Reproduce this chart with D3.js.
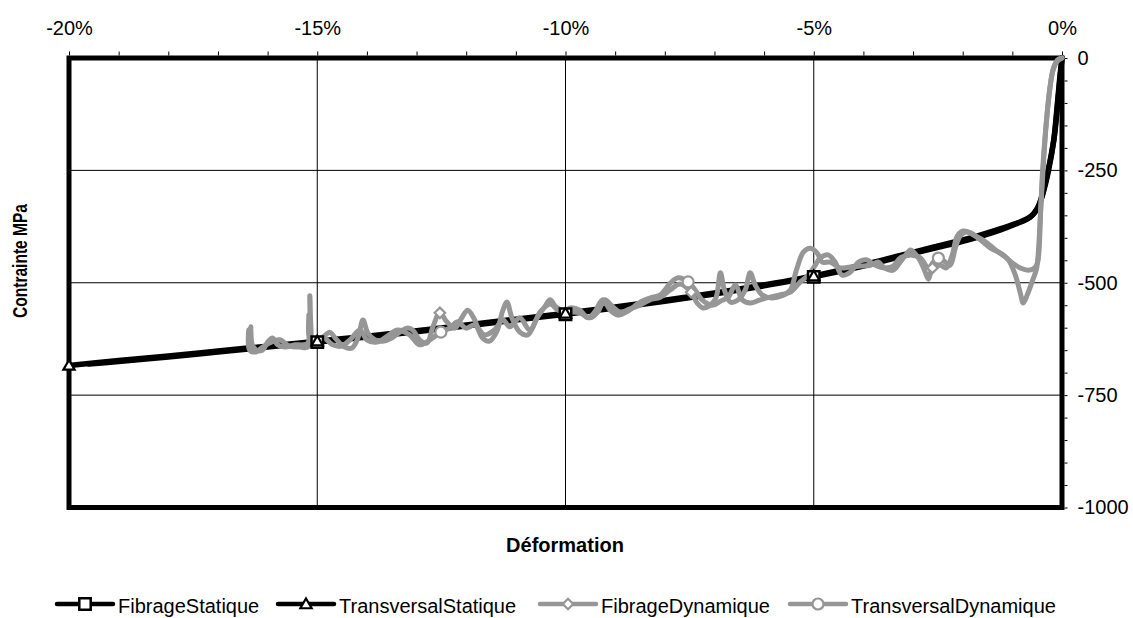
<!DOCTYPE html>
<html><head><meta charset="utf-8">
<script src="https://cdn.jsdelivr.net/npm/d3@7"></script>
<style>
body{margin:0;background:#fff}
svg{display:block}
text{font-family:"Liberation Sans",Arial,Helvetica,sans-serif;fill:#000}
</style>
</head><body>
<svg id="chart" width="1133" height="618"></svg>
<script>
// ---------- data ----------
const xTickValues = [-20,-15,-10,-5,0];
const yTickValues = [0,-250,-500,-750,-1000];
const seriesNames = ["FibrageStatique","TransversalStatique","FibrageDynamique","TransversalDynamique"];

// [strain %, stress MPa]
const fibrageStatique = [[0,0],[-0.05,-50],[-0.1,-110],[-0.17,-185],[-0.3,-260],[-0.4,-305],[-0.5,-335],[-0.65,-355],[-0.9,-368],[-1.25,-383],[-1.9,-405],[-2.6,-424],[-3.25,-442],[-4,-463],[-5,-487],[-6,-507],[-7,-525],[-8,-541],[-9,-556],[-10,-570],[-11,-583],[-12,-596],[-13,-609],[-14,-621],[-15,-632],[-16,-643],[-17,-654],[-18,-665],[-19,-675],[-19.6,-681]];
const transversalStatique = [[0,0],[-0.04,-45],[-0.09,-105],[-0.16,-180],[-0.28,-255],[-0.38,-300],[-0.48,-332],[-0.62,-352],[-0.88,-366],[-1.25,-380],[-1.9,-402],[-2.6,-421],[-3.25,-439],[-4,-460],[-5,-485],[-6,-505],[-7,-523],[-8,-539],[-9,-554],[-10,-568],[-11,-581],[-12,-594],[-13,-607],[-14,-619],[-15,-630],[-16,-641],[-17,-652],[-18,-663],[-19,-673],[-20,-684]];
const fibrageDynamique = [[-16.36,-643],[-16.34,-598],[-16.31,-638],[-16.22,-650],[-16.10,-650],[-16.00,-632],[-15.90,-623],[-15.80,-638],[-15.65,-643],[-15.45,-638],[-15.29,-638],[-15.19,-634],[-15.15,-529],[-15.13,-594],[-15.09,-638],[-14.99,-627],[-14.85,-618],[-14.75,-610],[-14.61,-627],[-14.45,-643],[-14.30,-645],[-14.18,-623],[-14.08,-583],[-13.98,-612],[-13.84,-627],[-13.68,-630],[-13.50,-623],[-13.34,-610],[-13.20,-601],[-13.08,-605],[-12.94,-627],[-12.79,-634],[-12.67,-598],[-12.53,-567],[-12.39,-587],[-12.23,-601],[-12.09,-578],[-11.97,-561],[-11.85,-578],[-11.67,-623],[-11.53,-630],[-11.39,-610],[-11.26,-561],[-11.18,-543],[-11.08,-578],[-10.92,-610],[-10.76,-616],[-10.57,-578],[-10.41,-552],[-10.31,-538],[-10.19,-554],[-10.01,-565],[-9.91,-565],[-9.71,-567],[-9.51,-578],[-9.35,-565],[-9.21,-538],[-9.06,-552],[-8.90,-565],[-8.70,-558],[-8.50,-550],[-8.30,-538],[-8.09,-532],[-7.89,-516],[-7.69,-503],[-7.47,-521],[-7.35,-545],[-7.23,-556],[-7.09,-550],[-6.97,-534],[-6.88,-478],[-6.80,-516],[-6.68,-543],[-6.52,-538],[-6.38,-516],[-6.28,-478],[-6.18,-505],[-6.04,-527],[-5.84,-534],[-5.64,-529],[-5.47,-516],[-5.35,-472],[-5.21,-432],[-5.07,-423],[-4.93,-434],[-4.83,-454],[-4.67,-454],[-4.47,-467],[-4.26,-465],[-4.06,-463],[-3.86,-461],[-3.70,-454],[-3.58,-467],[-3.40,-472],[-3.26,-454],[-3.16,-440],[-3.05,-427],[-2.89,-445],[-2.77,-472],[-2.69,-492],[-2.61,-467],[-2.45,-461],[-2.33,-467],[-2.21,-438],[-2.11,-396],[-1.99,-385],[-1.84,-389],[-1.64,-405],[-1.44,-423],[-1.24,-434],[-1.08,-449],[-0.94,-483],[-0.84,-523],[-0.78,-545],[-0.70,-527],[-0.59,-494],[-0.51,-467],[-0.45,-383],[-0.39,-249],[-0.33,-160],[-0.27,-93],[-0.19,-31],[-0.11,-9],[0,0]];
const transversalDynamique = [[-16.38,-605],[-16.36,-650],[-16.24,-654],[-16.12,-645],[-15.96,-634],[-15.76,-627],[-15.56,-641],[-15.35,-643],[-15.19,-643],[-15.17,-572],[-15.15,-627],[-15.03,-634],[-14.89,-621],[-14.69,-638],[-14.51,-641],[-14.34,-627],[-14.14,-605],[-14.00,-627],[-13.80,-632],[-13.58,-618],[-13.38,-605],[-13.14,-616],[-12.94,-638],[-12.73,-627],[-12.51,-610],[-12.33,-601],[-12.17,-587],[-12.01,-601],[-11.83,-594],[-11.63,-616],[-11.43,-605],[-11.26,-583],[-11.12,-598],[-10.92,-578],[-10.72,-605],[-10.51,-565],[-10.31,-547],[-10.15,-561],[-9.99,-563],[-9.91,-556],[-9.71,-561],[-9.55,-578],[-9.41,-565],[-9.25,-538],[-9.10,-561],[-8.94,-572],[-8.74,-563],[-8.50,-543],[-8.30,-534],[-8.09,-527],[-7.89,-501],[-7.73,-489],[-7.53,-498],[-7.39,-516],[-7.25,-538],[-7.04,-550],[-6.88,-541],[-6.72,-532],[-6.58,-505],[-6.44,-538],[-6.28,-545],[-6.08,-538],[-5.88,-532],[-5.68,-527],[-5.47,-521],[-5.27,-498],[-5.11,-483],[-4.97,-461],[-4.87,-445],[-4.71,-438],[-4.57,-454],[-4.43,-483],[-4.26,-476],[-4.10,-454],[-3.94,-449],[-3.76,-461],[-3.56,-467],[-3.40,-463],[-3.26,-445],[-3.05,-438],[-2.85,-445],[-2.69,-467],[-2.59,-454],[-2.49,-445],[-2.35,-454],[-2.25,-461],[-2.15,-423],[-2.05,-396],[-1.93,-387],[-1.74,-396],[-1.54,-409],[-1.34,-427],[-1.14,-443],[-1.00,-456],[-0.84,-467],[-0.68,-472],[-0.55,-467],[-0.49,-454],[-0.43,-338],[-0.37,-227],[-0.31,-138],[-0.25,-71],[-0.17,-22],[-0.09,-4],[0,0]];

// strains at which markers are shown
const fibrageStatiqueMarkers = [-5,-10,-15];
const transversalStatiqueMarkers = [-5,-10,-15,-20];
const fibrageDynamiqueMarkers = [-12.53,-7.47,-2.61];
const transversalDynamiqueMarkers = [-12.51,-7.53,-2.49];

// ---------- chart ----------
const svg = d3.select('#chart');
const x = d3.scaleLinear().domain([-20,0]).range([69,1062]);
const y = d3.scaleLinear().domain([-1000,0]).range([507.5,58]);
const FONT = 20;
const GREY = '#969696';
const hy = v => String(Math.round(v)); // plain hyphen-minus

const series = [
  {name:seriesNames[0], data:fibrageStatique, markers:fibrageStatiqueMarkers, color:'#000', width:5.5, symbol:'square'},
  {name:seriesNames[1], data:transversalStatique, markers:transversalStatiqueMarkers, color:'#000', width:5.5, symbol:'triangle'},
  {name:seriesNames[2], data:fibrageDynamique, markers:fibrageDynamiqueMarkers, color:GREY, width:5, symbol:'diamond'},
  {name:seriesNames[3], data:transversalDynamique, markers:transversalDynamiqueMarkers, color:GREY, width:5, symbol:'circle'}
];

// gridlines
svg.append('g').selectAll('line').data(yTickValues.filter(d=>d!==0 && d!==-1000)).join('line')
  .attr('x1',x(-20)).attr('x2',x(0)).attr('y1',d=>y(d)).attr('y2',d=>y(d))
  .attr('stroke','#000').attr('stroke-width',1);
svg.append('g').selectAll('line').data(xTickValues.filter(d=>d!==0 && d!==-20)).join('line')
  .attr('y1',y(0)).attr('y2',y(-1000)).attr('x1',d=>x(d)).attr('x2',d=>x(d))
  .attr('stroke','#000').attr('stroke-width',1);

// frame
svg.append('rect').attr('x',x(-20)).attr('y',y(0)).attr('width',x(0)-x(-20)).attr('height',y(-1000)-y(0))
  .attr('fill','none').attr('stroke','#000').attr('stroke-width',5);

// top axis (minor ticks every 1%)
const topAxis = d3.axisTop(x).tickValues(d3.range(-20,0.5,1))
  .tickFormat(d => (Math.round(d)%5===0) ? hy(d)+'%' : '')
  .tickSizeInner(4).tickSizeOuter(0).tickPadding(17);
const gt = svg.append('g').attr('transform',`translate(0,${y(0)-2.5})`).call(topAxis);
gt.select('.domain').remove();
gt.selectAll('line').attr('stroke','#000');
gt.selectAll('text').attr('font-size',FONT).attr('font-family','"Liberation Sans",Arial,sans-serif');

// right axis (ticks every 50)
const rightAxis = d3.axisRight(y).tickValues(d3.range(-1000,1,50))
  .tickFormat(d => (Math.round(d)%250===0) ? hy(d) : '')
  .tickSizeInner(3).tickSizeOuter(0).tickPadding(10);
const gr = svg.append('g').attr('transform',`translate(${x(0)+2.5},0)`).call(rightAxis);
gr.select('.domain').remove();
gr.selectAll('line').attr('stroke','#000');
gr.selectAll('text').attr('font-size',FONT).attr('font-family','"Liberation Sans",Arial,sans-serif');

// axis titles
svg.append('text').attr('x',565).attr('y',552).attr('text-anchor','middle')
  .attr('font-size',FONT).attr('font-weight','bold').text('Déformation');
svg.append('text').attr('transform','translate(26.5,261) rotate(-90) scale(0.74,1)')
  .attr('text-anchor','middle').attr('font-size',21).attr('font-weight','bold').text('Contrainte MPa');

// lines
const line = d3.line().x(d=>x(d[0])).y(d=>y(d[1])).curve(d3.curveCatmullRom.alpha(0.5));
svg.append('defs').append('clipPath').attr('id','clip').append('rect')
  .attr('x',x(-20)-6).attr('y',y(0)-6).attr('width',x(0)-x(-20)+12).attr('height',y(-1000)-y(0)+12);
const gl = svg.append('g').attr('clip-path','url(#clip)');
series.forEach(s=>{
  gl.append('path').datum(s.data).attr('d',line).attr('fill','none')
    .attr('stroke',s.color).attr('stroke-width',s.width)
    .attr('stroke-linejoin','round').attr('stroke-linecap','round');
});

// markers
function drawMarker(g, type, cx, cy, color){
  let path;
  if(type==='square') path = d3.symbol(d3.symbolSquare, 130)();
  else if(type==='triangle') path = d3.symbol(d3.symbolTriangle, 55)();
  else if(type==='diamond') path = d3.symbol(d3.symbolSquare, 55)();
  else path = d3.symbol(d3.symbolCircle, 95)();
  const rot = type==='diamond' ? ' rotate(45)' : '';
  const dy = type==='triangle' ? 1 : 0;
  g.append('path').attr('d',path).attr('transform',`translate(${cx},${cy+dy})${rot}`)
    .attr('fill','#fff').attr('stroke',color).attr('stroke-width', type==='square'?2.5:2.2);
}
const gm = svg.append('g');
series.forEach(s=>{
  s.markers.forEach(m=>{
    const p = s.data.find(d=>Math.abs(d[0]-m)<1e-6);
    if(p) drawMarker(gm, s.symbol, x(p[0]), y(p[1]), s.color);
  });
});

// legend
const legendLayout = [57, 278, 540, 790];
const legendY = 604;
const gLeg = svg.append('g');
series.forEach((s,i)=>{
  const x0 = legendLayout[i];
  gLeg.append('line').attr('x1',x0).attr('x2',x0+56).attr('y1',legendY).attr('y2',legendY)
    .attr('stroke',s.color).attr('stroke-width',4.5).attr('stroke-linecap','round');
  drawMarker(gLeg, s.symbol, x0+28, legendY, s.color);
  gLeg.append('text').attr('x',x0+61).attr('y',legendY+8.5).attr('font-size',FONT).text(s.name);
});
</script>
</body></html>
